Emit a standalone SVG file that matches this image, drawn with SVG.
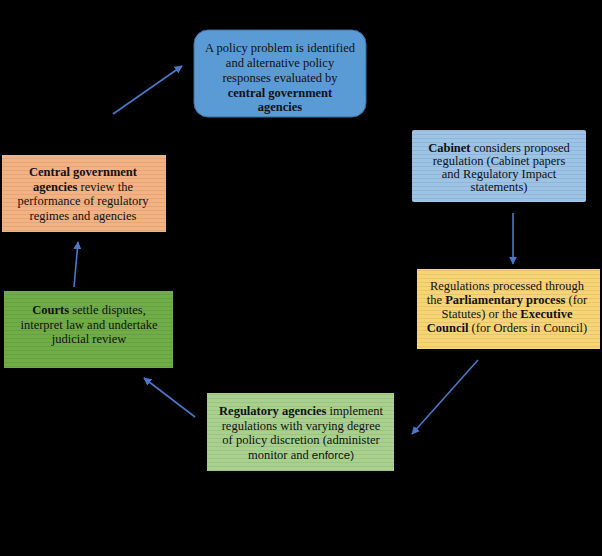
<svg xmlns="http://www.w3.org/2000/svg" width="602" height="556" viewBox="0 0 602 556">
<defs>
<pattern id="stripes" width="8" height="4" patternUnits="userSpaceOnUse">
<rect x="0" y="2" width="8" height="1" fill="#000" fill-opacity="0.07"/>
</pattern>
<marker id="arr" viewBox="0 0 10 10" refX="9" refY="5" markerWidth="8" markerHeight="8" orient="auto" markerUnits="userSpaceOnUse">
<path d="M0,0 L10,5 L0,10 Z" fill="#4a78c8"/>
</marker>
</defs>
<style>
text{font-family:"Liberation Serif","Times New Roman",serif;font-size:12.5px;fill:#111;text-anchor:middle}
.b{font-weight:bold}
.s{font-family:"Liberation Sans",Arial,sans-serif;font-size:11.5px}
.conn line{stroke:#4a78c8;stroke-width:1.6;marker-end:url(#arr)}
</style>
<rect width="602" height="556" fill="#000"/>

<g id="node-policy">
<rect x="194" y="30" width="172" height="87" rx="14" fill="#5b9bd5" stroke="#3b6ea0" stroke-width="1"/>
<text x="280" y="52">A policy problem is identified</text>
<text x="280" y="67">and alternative policy</text>
<text x="280" y="82">responses evaluated by</text>
<text x="280" y="97" class="b">central government</text>
<text x="280" y="111" class="b">agencies</text>
</g>

<g id="node-cabinet">
<rect x="412" y="130" width="174" height="72" rx="2" fill="#9dc3e6"/>
<rect x="412" y="130" width="174" height="72" fill="url(#stripes)"/>
<text x="499" y="152"><tspan class="b">Cabinet</tspan> considers proposed</text>
<text x="499" y="165">regulation (Cabinet papers</text>
<text x="499" y="178">and Regulatory Impact</text>
<text x="499" y="191">statements)</text>
</g>

<g id="node-parliament">
<rect x="417" y="269" width="183" height="80" fill="#f8d574"/>
<rect x="417" y="269" width="183" height="80" fill="url(#stripes)"/>
<text x="507" y="290">Regulations processed through</text>
<text x="507" y="304">the <tspan class="b">Parliamentary process</tspan> (for</text>
<text x="507" y="318">Statutes) or the <tspan class="b">Executive</tspan></text>
<text x="507" y="332"><tspan class="b">Council</tspan> (for Orders in Council)</text>
</g>

<g id="node-agencies">
<rect x="207" y="393" width="187" height="78" fill="#a9d18e"/>
<rect x="207" y="393" width="187" height="78" fill="url(#stripes)"/>
<text x="301" y="415"><tspan class="b">Regulatory agencies</tspan> implement</text>
<text x="301" y="430">regulations with varying degree</text>
<text x="301" y="444">of policy discretion (administer</text>
<text x="301" y="459">monitor and <tspan class="s">enforce)</tspan></text>
</g>

<g id="node-courts">
<rect x="4" y="291" width="169" height="77" fill="#70ad47"/>
<rect x="4" y="291" width="169" height="77" fill="url(#stripes)"/>
<text x="89" y="314"><tspan class="b">Courts</tspan> settle disputes,</text>
<text x="89" y="329">interpret law and undertake</text>
<text x="89" y="343">judicial review</text>
</g>

<g id="node-review">
<rect x="2" y="155" width="164" height="77" fill="#f4b183"/>
<rect x="2" y="155" width="164" height="77" fill="url(#stripes)"/>
<text x="83" y="176" class="b">Central government</text>
<text x="83" y="191"><tspan class="b">agencies</tspan> review the</text>
<text x="83" y="205">performance of regulatory</text>
<text x="83" y="220">regimes and agencies</text>
</g>

<g id="connectors" class="conn">
<line x1="113" y1="114" x2="182" y2="66"/>
<line x1="513" y1="213" x2="513" y2="264"/>
<line x1="478" y1="360" x2="412" y2="434"/>
<line x1="195" y1="417" x2="144" y2="378"/>
<line x1="74" y1="287" x2="78" y2="242"/>
</g>
</svg>
